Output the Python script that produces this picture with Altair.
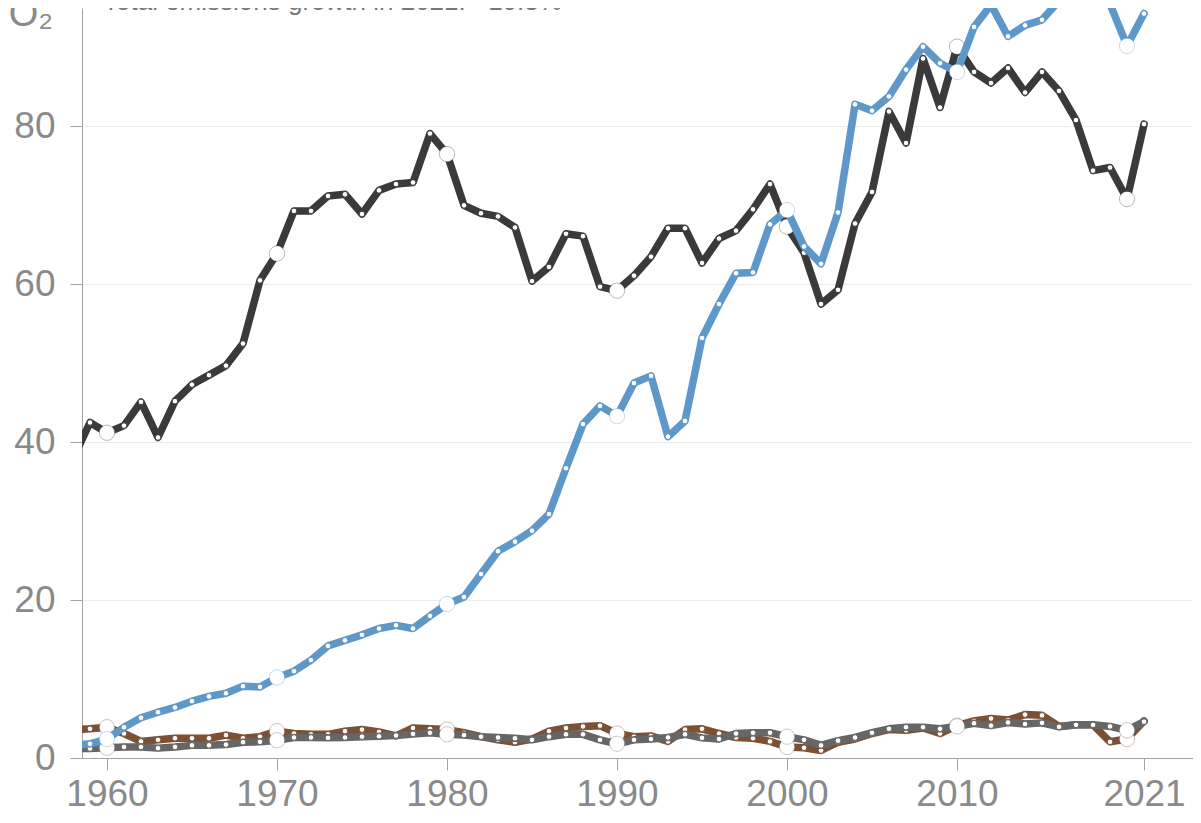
import altair as alt
import pandas as pd

years = list(range(1958, 2022))

dark_values = [37.9, 42.5, 41.2, 42.1, 45.1, 40.6, 45.2, 47.3, 48.5, 49.7,
               52.5, 60.5, 63.9, 69.3, 69.3, 71.2, 71.4, 68.9, 71.9, 72.7,
               72.9, 79.1, 76.5, 70.0, 69.0, 68.6, 67.2, 60.4, 62.2, 66.4,
               66.1, 59.7, 59.2, 61.1, 63.5, 67.1, 67.1, 62.7, 65.8, 66.8,
               69.5, 72.7, 67.3, 64.0, 57.5, 59.3, 67.7, 71.7, 81.9, 77.9,
               88.6, 82.4, 90.1, 86.9, 85.5, 87.4, 84.3, 86.9, 84.5, 80.8,
               74.4, 74.8, 70.8, 80.3]

blue_values = [1.6, 1.8, 2.4, 3.9, 5.1, 5.8, 6.4, 7.2, 7.8, 8.2,
               9.1, 9.0, 10.2, 11.0, 12.4, 14.2, 14.9, 15.6, 16.4, 16.8,
               16.4, 18.0, 19.5, 20.4, 23.3, 26.2, 27.4, 28.8, 30.9, 36.7,
               42.3, 44.6, 43.3, 47.5, 48.4, 40.7, 42.7, 53.2, 57.5, 61.4,
               61.5, 67.6, 69.4, 64.8, 62.6, 69.1, 82.8, 82.0, 83.8, 87.2,
               90.1, 88.0, 86.9, 92.6, 95.4, 91.4, 92.8, 93.5, 95.9, 96.3,
               95.9, 95.5, 90.2, 94.3]

brown_values = [3.6, 3.7, 3.9, 3.1, 2.1, 2.3, 2.5, 2.5, 2.5, 2.9,
                2.5, 2.7, 3.4, 3.1, 3.0, 3.0, 3.4, 3.6, 3.3, 2.8,
                3.8, 3.7, 3.6, 3.2, 2.7, 2.3, 2.0, 2.4, 3.4, 3.8,
                4.0, 4.1, 3.1, 2.7, 2.8, 2.1, 3.6, 3.7, 3.1, 2.6,
                2.5, 2.1, 1.4, 1.3, 0.95, 2.0, 2.4, 3.1, 3.6, 3.5,
                3.8, 3.1, 4.1, 4.7, 5.0, 4.8, 5.5, 5.4, 4.0, 4.2,
                4.2, 2.05, 2.4, 4.7]

gray_values = [1.2, 1.2, 1.3, 1.4, 1.4, 1.25, 1.4, 1.6, 1.6, 1.7,
               2.0, 2.05, 2.25, 2.6, 2.6, 2.55, 2.6, 2.7, 2.75, 2.85,
               3.05, 3.2, 3.0, 2.9, 2.7, 2.6, 2.5, 2.3, 2.7, 3.0,
               3.0, 2.3, 1.8, 2.3, 2.4, 2.6, 3.0, 2.55, 2.4, 3.1,
               3.2, 3.2, 2.7, 2.3, 1.6, 2.2, 2.6, 3.2, 3.7, 3.9,
               3.9, 3.7, 4.0, 4.4, 4.1, 4.5, 4.3, 4.45, 3.95, 4.2,
               4.2, 4.0, 3.5, 4.6]

highlight_years = [1960, 1970, 1980, 1990, 2000, 2010, 2020]
x_tick_values = [1960, 1970, 1980, 1990, 2000, 2010, 2021]
y_tick_values = [0, 20, 40, 60, 80]

series_order = ["brown", "gray", "dark", "blue"]
series_data = {"brown": brown_values, "gray": gray_values,
               "dark": dark_values, "blue": blue_values}
series_colors = {"brown": "#7b5034", "gray": "#666666",
                 "dark": "#3a3a3a", "blue": "#5e98c9"}

unit_label = ["CO₂"]
note_label = ["Total emissions growth in 2021: +10.3%"]

rows = []
for s in series_order:
    for yr, v in zip(years, series_data[s]):
        rows.append({"series": s, "year": yr, "value": v,
                     "big": yr in highlight_years})
df = pd.DataFrame(rows)

FONT = "Liberation Sans"
AXIS_GRAY = "#a3a3a3"
LABEL_GRAY = "#8a8a8a"

x_enc = alt.X("year:Q",
              scale=alt.Scale(domain=[1958.53, 2023.88], nice=False, zero=False),
              axis=alt.Axis(values=x_tick_values, format="d", title=None,
                            grid=False, tickSize=12, labelPadding=35,
                            labelBaseline="alphabetic",
                            labelFontSize=37, labelColor=LABEL_GRAY,
                            labelFont=FONT, domainColor=AXIS_GRAY,
                            tickColor=AXIS_GRAY, labelFlush=False,
                            labelOverlap=False))
y_enc = alt.Y("value:Q",
              scale=alt.Scale(domain=[0, 95.0], nice=False, zero=True),
              axis=alt.Axis(values=y_tick_values, title=None, grid=True,
                            gridColor="#ebebeb", gridWidth=1,
                            tickSize=12, labelPadding=15,
                            labelFontSize=37, labelColor=LABEL_GRAY,
                            labelFont=FONT, domainColor=AXIS_GRAY,
                            tickColor=AXIS_GRAY))

layers = []
for s in series_order:
    c = series_colors[s]
    base = alt.Chart(df).transform_filter(alt.datum.series == s)
    line = base.mark_line(color=c, strokeWidth=7.5, strokeJoin="round",
                          strokeCap="round", clip=True).encode(x=x_enc, y=y_enc)
    dots = base.mark_point(shape="circle", filled=True, fill="white",
                           stroke=c, strokeWidth=1, size=32, opacity=1,
                           clip=True).encode(x=x_enc, y=y_enc)
    big = base.transform_filter(alt.datum.big == True).mark_point(
        shape="circle", filled=True, fill="white", stroke=c,
        strokeOpacity=0.35, strokeWidth=1, size=235, opacity=1,
        clip=True).encode(x=x_enc, y=y_enc)
    layers += [line, dots, big]

unit_text = alt.Chart(pd.DataFrame({"t": unit_label})).mark_text(
    align="right", baseline="alphabetic", fontSize=38, font=FONT,
    color=LABEL_GRAY).encode(text="t:N", x=alt.value(-29), y=alt.value(18))
note_text = alt.Chart(pd.DataFrame({"t": note_label})).mark_text(
    align="left", baseline="alphabetic", fontSize=26, font=FONT,
    color="#777777").encode(text="t:N", x=alt.value(21), y=alt.value(2))

chart = alt.layer(*layers, unit_text, note_text).properties(
    width=1111, height=750,
    autosize=alt.AutoSizeParams(type="none"),
    padding={"left": 74, "top": 0, "right": 0, "bottom": 57},
    background="white",
).configure_view(stroke=None)

chart.save("out.html", embed_options={"renderer": "svg", "actions": False})
